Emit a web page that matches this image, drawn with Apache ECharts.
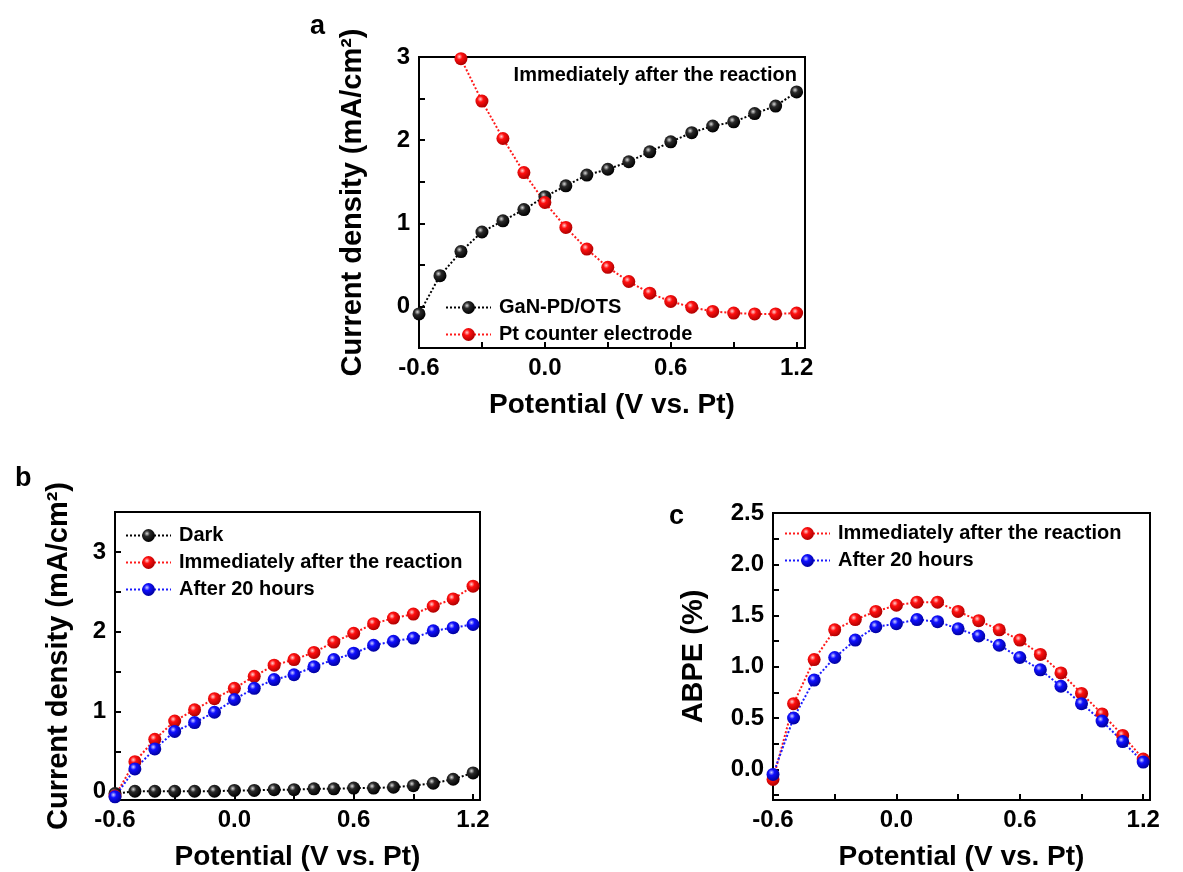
<!DOCTYPE html>
<html lang="en">
<head>
    <meta charset="utf-8">
    <title>GaN-PD/OTS</title>
    <script src="https://cdn.jsdelivr.net/npm/echarts@6/dist/echarts.min.js"></script>
    <style type="text/css">
        html, body { height: 100%; margin: 0; background: #fff; }
    </style>
</head>
<body>
    <div id="main" style="width:1183px;height:872px;"></div>
    <script type="text/javascript">
        // potential axis (V vs. Pt)
        var potential = [-0.6, -0.5, -0.4, -0.3, -0.2, -0.1, 0.0, 0.1, 0.2, 0.3, 0.4, 0.5, 0.6, 0.7, 0.8, 0.9, 1.0, 1.1, 1.2];
        var potentialPt = [-0.4, -0.3, -0.2, -0.1, 0.0, 0.1, 0.2, 0.3, 0.4, 0.5, 0.6, 0.7, 0.8, 0.9, 1.0, 1.1, 1.2];

        // panel a
        var ganPdOts = [-0.09, 0.37, 0.66, 0.895, 1.03, 1.165, 1.32, 1.45, 1.58, 1.65, 1.74, 1.86, 1.98, 2.09, 2.17, 2.22, 2.32, 2.41, 2.58];
        var ptCounter = [2.98, 2.47, 2.02, 1.61, 1.25, 0.95, 0.69, 0.47, 0.30, 0.16, 0.06, -0.01, -0.06, -0.08, -0.09, -0.09, -0.08];

        // panel b
        var dark = [-0.03, 0.0, 0.0, 0.0, 0.0, 0.0, 0.01, 0.01, 0.02, 0.02, 0.03, 0.03, 0.04, 0.04, 0.05, 0.07, 0.10, 0.15, 0.23];
        var immediately = [-0.06, 0.37, 0.65, 0.88, 1.02, 1.16, 1.29, 1.44, 1.58, 1.65, 1.74, 1.87, 1.98, 2.10, 2.17, 2.22, 2.32, 2.41, 2.57];
        var after20h = [-0.07, 0.28, 0.53, 0.75, 0.86, 0.99, 1.15, 1.29, 1.40, 1.46, 1.56, 1.65, 1.73, 1.83, 1.88, 1.92, 2.01, 2.05, 2.09];

        // panel c (ABPE %)
        var abpeImmediately = [-0.10, 0.64, 1.07, 1.36, 1.46, 1.54, 1.60, 1.63, 1.63, 1.54, 1.45, 1.36, 1.26, 1.12, 0.94, 0.74, 0.54, 0.33, 0.10];
        var abpeAfter20h = [-0.05, 0.50, 0.87, 1.09, 1.26, 1.39, 1.42, 1.46, 1.44, 1.37, 1.30, 1.21, 1.09, 0.97, 0.81, 0.64, 0.47, 0.27, 0.07];

        var xLabels = [-0.6, 0.0, 0.6, 1.2];
        var xTicks = [-0.6, -0.3, 0.0, 0.3, 0.6, 0.9, 1.2];
        var jLabels = [0, 1, 2, 3];
        var jTicksA = [0, 0.5, 1, 1.5, 2, 2.5, 3];
        var jTicksB = [0, 0.5, 1, 1.5, 2, 2.5, 3, 3.5];
        var abpeLabels = [0, 0.5, 1.0, 1.5, 2.0, 2.5];
        var abpeTicks = [-0.25, 0, 0.25, 0.5, 0.75, 1.0, 1.25, 1.5, 1.75, 2.0, 2.25, 2.5];

        var FONT = '"Liberation Sans", Arial, sans-serif';

        function ball(c0, c1, c2) {
            return {
                type: 'radial', x: 0.38, y: 0.35, r: 0.65,
                colorStops: [
                    { offset: 0, color: c0 },
                    { offset: 0.35, color: c1 },
                    { offset: 1, color: c2 }
                ]
            };
        }
        var BLACK = { line: '#000', ball: ball('#d8d8d8', '#2a2a2a', '#000') };
        var RED = { line: '#ff1a1a', ball: ball('#ffd0d0', '#ff1010', '#b00000') };
        var BLUE = { line: '#1a1aff', ball: ball('#d0d0ff', '#1010ff', '#0000a0') };

        function pairs(xs, ys) {
            return xs.map(function (x, i) { return [x, ys[i]]; });
        }

        function mkSeries(name, idx, xs, ys, col) {
            return {
                name: name,
                type: 'line',
                xAxisIndex: idx,
                yAxisIndex: idx,
                data: pairs(xs, ys),
                symbol: 'circle',
                symbolSize: 13,
                showAllSymbol: true,
                lineStyle: { color: col.line, width: 2, type: 'dotted' },
                itemStyle: { color: col.ball, borderWidth: 0 },
                emphasis: { disabled: true },
                clip: true
            };
        }

        function xAxisCfg(idx, max) {
            return {
                type: 'value', gridIndex: idx, min: -0.6, max: max,
                name: 'Potential (V vs. Pt)', nameLocation: 'middle', nameGap: 43,
                nameTextStyle: { fontFamily: FONT, fontWeight: 'bold', fontSize: 28, color: '#000' },
                axisLine: { show: true, onZero: false, lineStyle: { color: '#000', width: 2 } },
                axisTick: { show: true, inside: true, length: 6, lineStyle: { color: '#000', width: 2 }, customValues: xTicks },
                axisLabel: {
                    fontFamily: FONT, fontWeight: 'bold', fontSize: 24, color: '#000', margin: 8,
                    customValues: xLabels,
                    formatter: function (v) { return v.toFixed(1); }
                },
                splitLine: { show: false }
            };
        }

        function yAxisCfg(idx, min, max, name, gap, labels, ticks, digits) {
            return {
                type: 'value', gridIndex: idx, min: min, max: max,
                name: name, nameLocation: 'middle', nameGap: gap,
                nameTextStyle: { fontFamily: FONT, fontWeight: 'bold', fontSize: 29, color: '#000' },
                axisLine: { show: true, onZero: false, lineStyle: { color: '#000', width: 2 } },
                axisTick: { show: true, inside: true, length: 6, lineStyle: { color: '#000', width: 2 }, customValues: ticks },
                axisLabel: {
                    fontFamily: FONT, fontWeight: 'bold', fontSize: 24, color: '#000', margin: 9,
                    customValues: labels,
                    formatter: function (v) { return v.toFixed(digits); }
                },
                splitLine: { show: false }
            };
        }

        function legendCfg(left, top, names) {
            return {
                orient: 'vertical', left: left, top: top,
                data: names,
                itemWidth: 45, itemHeight: 16, itemGap: 6,
                selectedMode: false,
                textStyle: { fontFamily: FONT, fontWeight: 'bold', fontSize: 20, color: '#000', lineHeight: 21, padding: [0, 0, 0, 3] }
            };
        }

        var panelText = { fontFamily: FONT, fontWeight: 'bold', fontSize: 27, color: '#000' };

        var myChart = echarts.init(document.getElementById('main'));

        var option = {
            backgroundColor: '#fff',
            animation: false,
            title: [
                { text: 'a', left: 305, top: 8, textStyle: panelText },
                { text: 'b', left: 10, top: 460, textStyle: panelText },
                { text: 'c', left: 664, top: 498, textStyle: panelText },
                {
                    text: 'Immediately after the reaction', right: 381, top: 60,
                    textStyle: { fontFamily: FONT, fontWeight: 'bold', fontSize: 20, color: '#000' }
                }
            ],
            grid: [
                { left: 419, top: 57, width: 386, height: 291, show: true, borderColor: '#000', borderWidth: 2, containLabel: false },
                { left: 115, top: 512, width: 365, height: 290, show: true, borderColor: '#000', borderWidth: 2, containLabel: false },
                { left: 773, top: 513, width: 377, height: 290, show: true, borderColor: '#000', borderWidth: 2, containLabel: false }
            ],
            xAxis: [
                xAxisCfg(0, 1.24),
                xAxisCfg(1, 1.235),
                xAxisCfg(2, 1.233)
            ],
            yAxis: [
                yAxisCfg(0, -0.5, 3, 'Current density (mA/cm²)', 52, jLabels, jTicksA, 0),
                yAxisCfg(1, -0.11, 3.5, 'Current density (mA/cm²)', 42, jLabels, jTicksB, 0),
                yAxisCfg(2, -0.3, 2.5, 'ABPE (%)', 65, abpeLabels, abpeTicks, 1)
            ],
            legend: [
                legendCfg(440, 292, ['GaN-PD/OTS', 'Pt counter electrode']),
                legendCfg(120, 520, ['Dark', 'Immediately after the reaction', 'After 20 hours']),
                legendCfg(779, 518, ['Immediately after the reaction', 'After 20 hours'])
            ],
            series: [
                mkSeries('GaN-PD/OTS', 0, potential, ganPdOts, BLACK),
                mkSeries('Pt counter electrode', 0, potentialPt, ptCounter, RED),
                mkSeries('Dark', 1, potential, dark, BLACK),
                mkSeries('Immediately after the reaction', 1, potential, immediately, RED),
                mkSeries('After 20 hours', 1, potential, after20h, BLUE),
                mkSeries('Immediately after the reaction', 2, potential, abpeImmediately, RED),
                mkSeries('After 20 hours', 2, potential, abpeAfter20h, BLUE)
            ]
        };

        option && myChart.setOption(option);
    </script>
</body>
</html>
